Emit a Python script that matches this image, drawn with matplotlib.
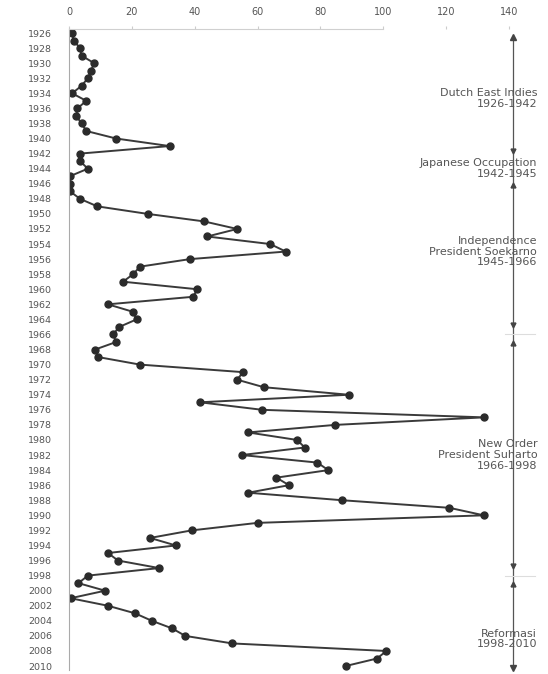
import matplotlib
matplotlib.use("Agg")
import matplotlib.pyplot as plt
import matplotlib.transforms as mtransforms

# yearly values (top axis 0-140)
years = list(range(1926, 2011))
values = [1, 1.5, 3.5, 4, 8, 7, 6, 4, 1, 5.5,
          2.7, 2.3, 4, 5.5, 15, 32, 3.5, 3.5, 6, 0.3,
          0.3, 0.3, 3.5, 9, 25, 43, 53.5, 44, 64, 69,
          38.5, 22.6, 20.4, 17.2, 40.8, 39.5, 12.4, 20.4, 21.5, 16,
          14, 15, 8.3, 9.3, 22.6, 55.4, 53.5, 62, 89, 41.7,
          61.5, 132, 84.7, 57, 72.6, 75, 55, 79, 82.5, 66,
          70, 57, 87, 121, 132, 60, 39, 25.8, 34, 12.4,
          15.6, 28.7, 6, 3, 11.5, 0.5, 12.4, 21, 26.4, 32.8,
          37, 52, 101, 98, 88]

x_ticks = [0, 20, 40, 60, 80, 100, 120, 140]
y_ticks = list(range(1926, 2011, 2))

# historical periods on the right-hand timeline
period_labels = ["Dutch East Indies\n1926-1942",
                 "Japanese Occupation\n1942-1945",
                 "Independence\nPresident Soekarno\n1945-1966",
                 "New Order\nPresident Suharto\n1966-1998",
                 "Reformasi\n1998-2010"]
period_label_y = [1934.7, 1944.0, 1955.0, 1982.0, 2006.4]
boundaries = [1966, 1998]

fig = plt.figure(figsize=(5.48, 6.74), dpi=100)
ax = fig.add_axes([0.1259, 0.0062, 0.8029, 0.9504])

ax.plot(values, years, color="#3a3a3a", linewidth=1.4, marker="o",
        markersize=5, markerfacecolor="#2b2b2b", markeredgecolor="#2b2b2b")

ax.set_xlim(0, 140)
ax.set_ylim(2010.5, 1925.5)
ax.xaxis.tick_top()
ax.set_xticks(x_ticks)
ax.set_xticklabels([str(t) for t in x_ticks], fontsize=7, color="#555555")
ax.set_yticks(y_ticks)
ax.set_yticklabels([str(t) for t in y_ticks], fontsize=6.8, color="#555555")
ax.tick_params(axis="x", length=2, pad=7, color="#cccccc")
ax.tick_params(axis="y", length=0, pad=12)

for side in ["right", "bottom"]:
    ax.spines[side].set_visible(False)
ax.spines["left"].set_color("#aaaaaa")
ax.spines["left"].set_linewidth(0.8)
ax.spines["top"].set_color("#d0d0d0")
ax.spines["top"].set_bounds(0, 100)

# timeline on the right
trans = mtransforms.blended_transform_factory(ax.transAxes, ax.transData)
line_x = 1.009
ax.plot([line_x, line_x], [1926.4, 2010.3], color="#555555", linewidth=0.9,
        transform=trans, clip_on=False)
ax.plot([line_x], [1926.5], marker="^", markersize=4, color="#444444",
        transform=trans, clip_on=False)
ax.plot([line_x], [2010.2], marker="v", markersize=4, color="#444444",
        transform=trans, clip_on=False)
ax.plot([line_x], [1941.6], marker="v", markersize=3.5, color="#444444",
        transform=trans, clip_on=False)
ax.plot([line_x], [1946.2], marker="^", markersize=3.5, color="#444444",
        transform=trans, clip_on=False)
for b in boundaries:
    ax.plot([line_x], [b - 1.3], marker="v", markersize=3.5, color="#444444",
            transform=trans, clip_on=False)
    ax.plot([line_x], [b + 1.1], marker="^", markersize=3.5, color="#444444",
            transform=trans, clip_on=False)
    ax.plot([0.99, 1.06], [b, b], color="#dddddd", linewidth=0.8,
            transform=trans, clip_on=False)

for label, yv in zip(period_labels, period_label_y):
    ax.text(1.064, yv, label, transform=trans, ha="right", va="center",
            fontsize=8, color="#555555", linespacing=1.1)

fig.savefig("out.png", dpi=100)
